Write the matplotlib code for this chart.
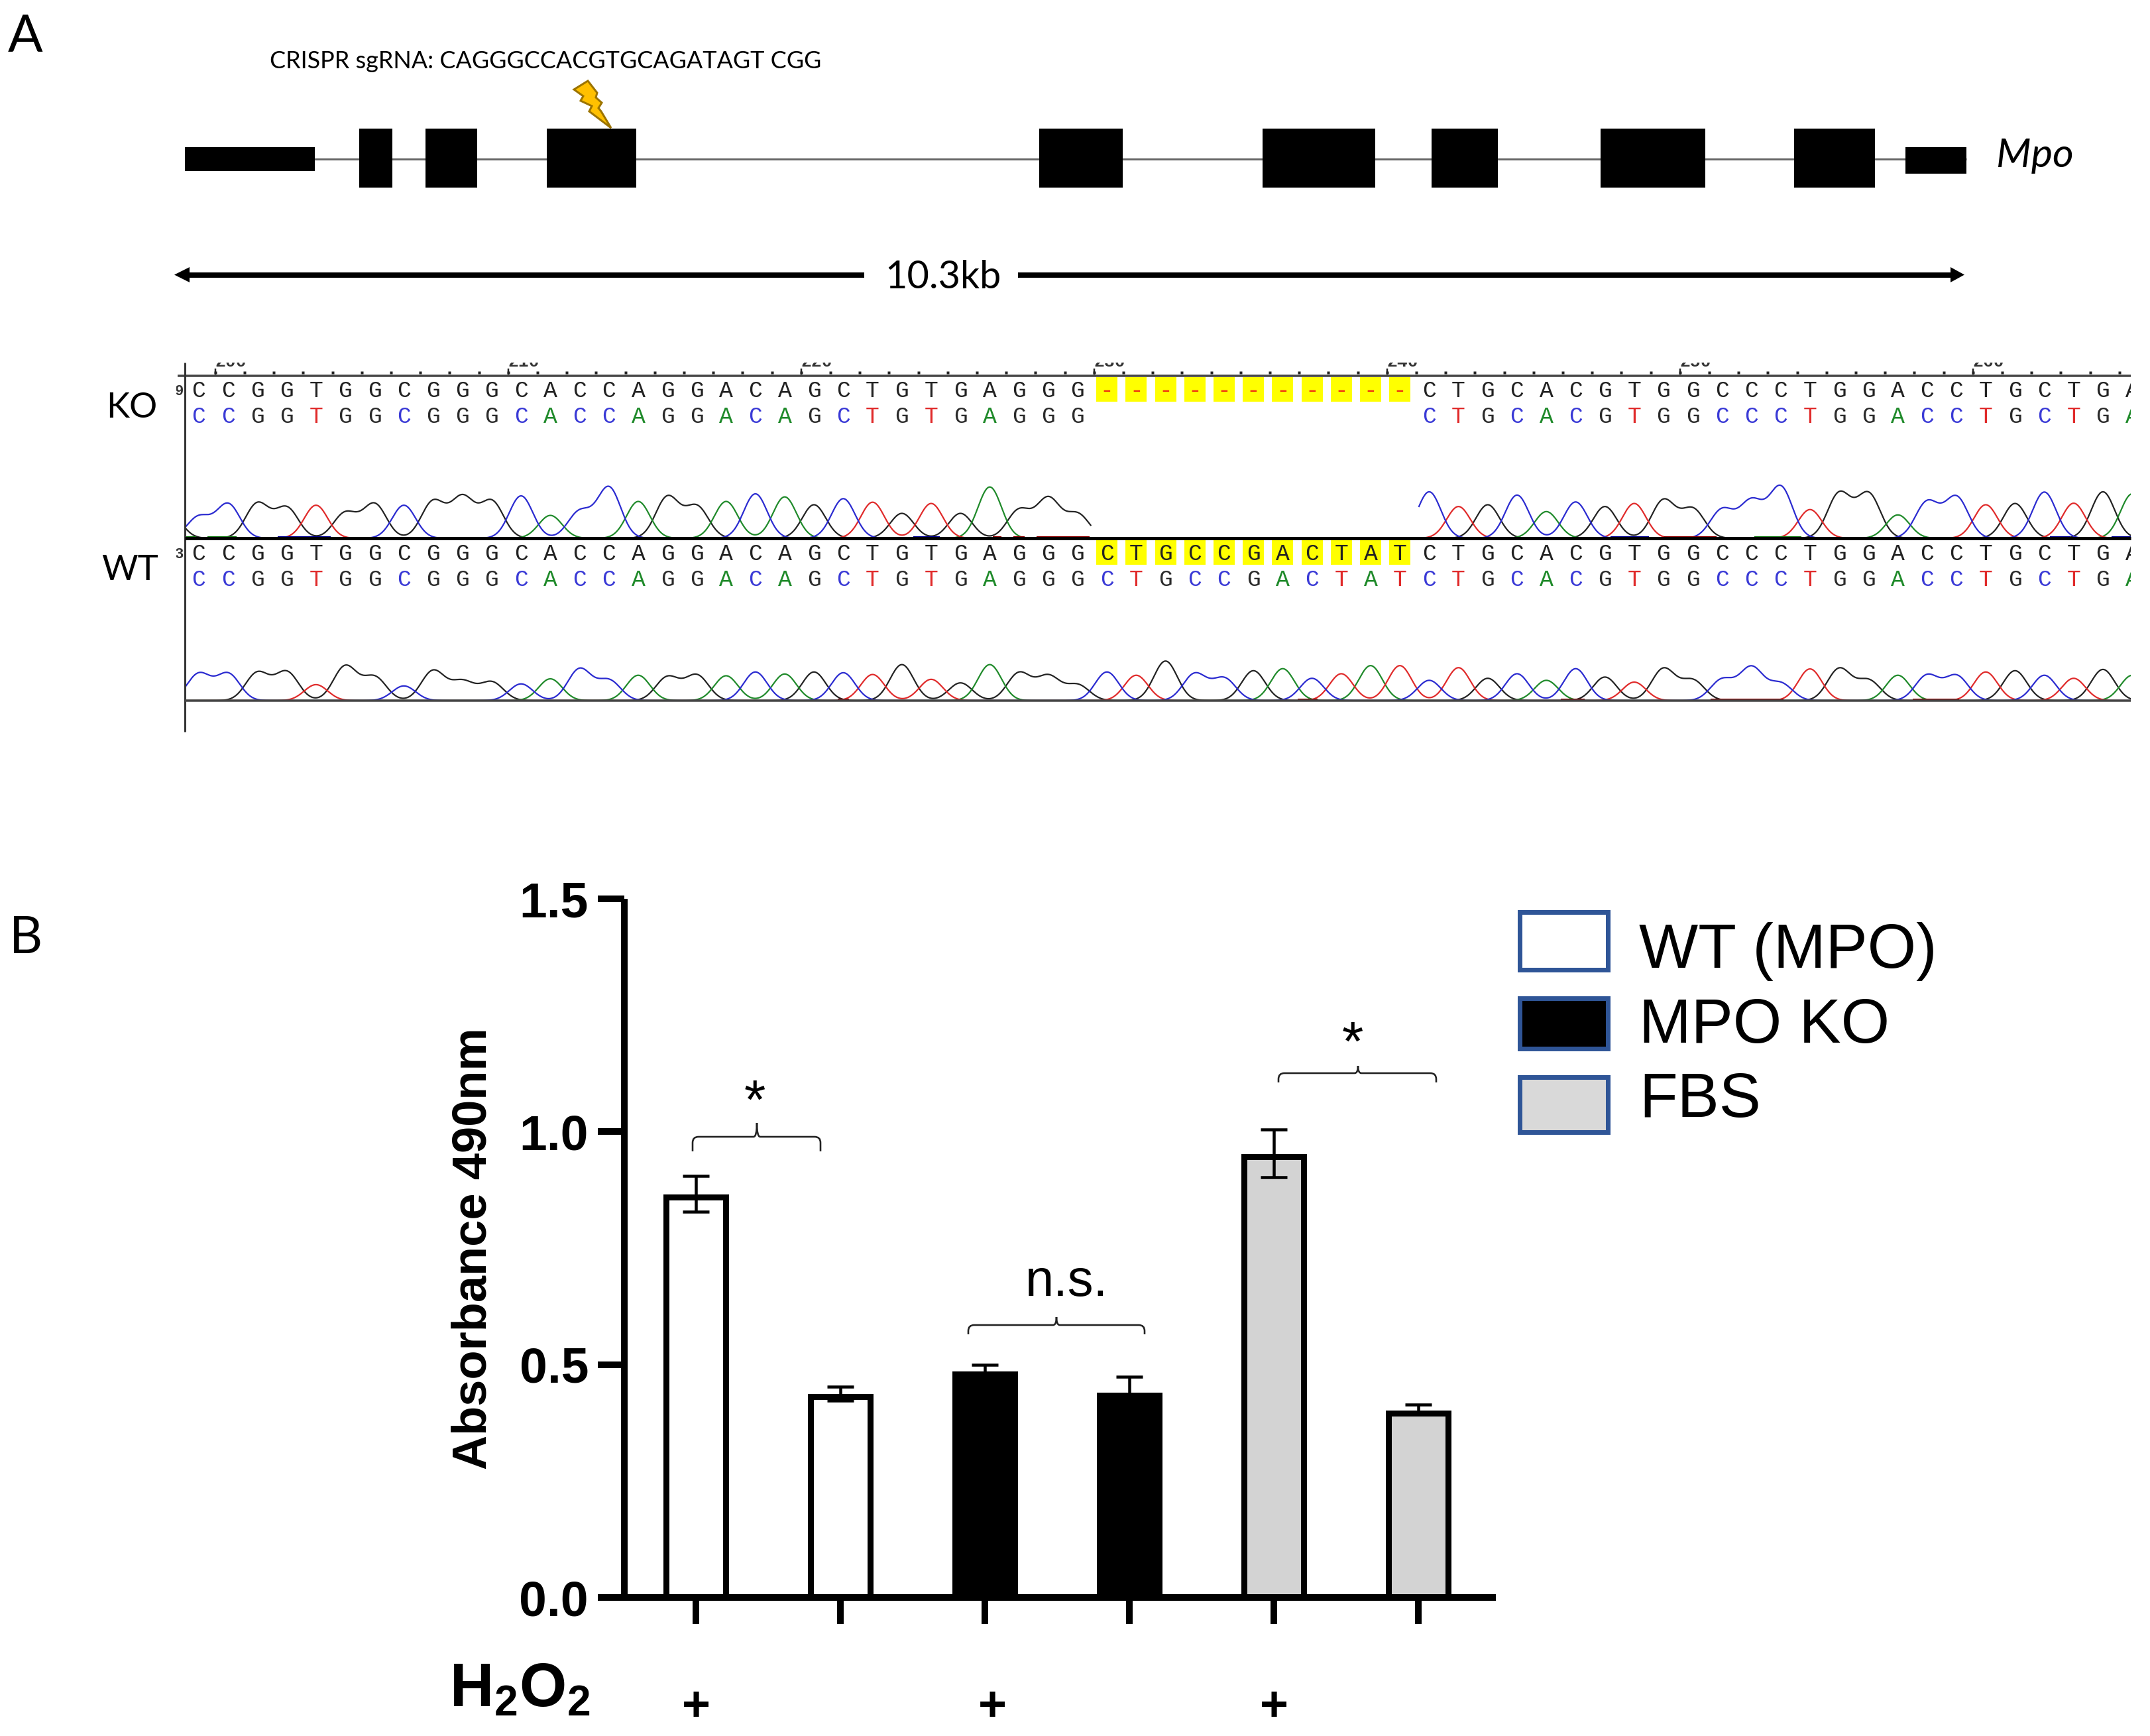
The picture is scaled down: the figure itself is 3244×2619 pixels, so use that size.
import numpy as np
import matplotlib
matplotlib.use("Agg")
import matplotlib.pyplot as plt
from matplotlib.patches import Rectangle, Polygon, PathPatch
from matplotlib.path import Path
from matplotlib.transforms import Bbox

# ---------- data ----------
# Panel B
groups = ["WT (MPO)", "WT (MPO)", "MPO KO", "MPO KO", "FBS", "FBS"]
absorbance = [0.859, 0.431, 0.479, 0.434, 0.946, 0.395]
err_low = [0.031, 0.008, 0.0, 0.0, 0.044, 0.0]
err_high = [0.046, 0.021, 0.021, 0.040, 0.059, 0.019]
bar_fill = ["white", "white", "black", "black", "#d3d3d3", "#d3d3d3"]
y_ticks = [0.0, 0.5, 1.0, 1.5]
y_tick_labels = ["0.0", "0.5", "1.0", "1.5"]
legend_names = ["WT (MPO)", "MPO KO", "FBS"]
legend_fill = ["white", "black", "#d9d9d9"]
h2o2_x = [1050, 1497, 1922]
brackets = [("*", 1045, 1238, 1142, 1715, 1737, 1694, 1139, 1688),
            ("n.s.", 1461, 1727, 1594, 1999, 2013, 1987, 1609, 1955),
            ("*", 1929, 2167, 2049, 1619, 1633, 1608, 2041, 1600)]
# Panel A gene model
exon_start = [279, 542, 642, 825, 1568, 1905, 2160, 2415, 2707, 2875]
exon_end = [475, 592, 720, 960, 1694, 2075, 2260, 2573, 2829, 2967]
exon_top = [222, 194, 194, 194, 194, 194, 194, 194, 194, 222]
exon_bottom = [258, 283, 283, 283, 283, 283, 283, 283, 283, 262]
bolt_x = [887, 866, 880, 876, 893, 889, 922, 907, 903, 908, 899, 901]
bolt_y = [122, 135, 145, 152, 160, 168, 193, 168, 163, 155, 147, 140]
# Panel A sequence traces
seq_left = "CCGGTGGCGGGCACCAGGACAGCTGTGAGGG"
seq_mid = "CTGCCGACTAT"
seq_right = "CTGCACGTGGCCCTGGACCTGCTGA"
wt_seq = seq_left + seq_mid + seq_right
ko_called = [b for b in seq_left] + ["-"] * len(seq_mid) + [b for b in seq_right]
ko_peaks = [85, 135, 137, 120, 130, 100, 135, 130, 145, 160, 145, 167, 90, 105, 200, 145,
            163, 125, 145, 175, 163, 132, 156, 142, 98, 137, 98, 202, 111, 156, 95,
            0, 0, 0, 0, 0, 0, 0, 0, 0, 0, 0,
            183, 125, 132, 170, 105, 143, 125, 137, 150, 115, 113, 145, 202, 113, 177,
            175, 92, 143, 162, 132, 137, 182, 138, 183, 175]
wt_peaks = [106, 106, 110, 113, 63, 136, 93, 58, 118, 75, 73, 66, 86, 125, 80, 100, 93, 100,
            98, 113, 105, 113, 110, 103, 142, 84, 70, 142, 109, 96, 62,
            113, 100, 156, 106, 88, 118, 126, 88, 106, 138, 138,
            80, 130, 88, 106, 80, 126, 93, 73, 126, 80, 83, 131, 68, 125, 126, 80, 100,
            100, 98, 113, 118, 100, 88, 123, 100]
ko_spans = [(-0.47, 30.45), (41.65, 67.0)]
ko_base_marks = [(-0.47, -0.1, "#147a14"), (0.3, 1.3, "#147a14"), (2.7, 4.5, "#000090"),
                 (24.4, 25.3, "#000090"), (27.1, 27.4, "#8b0000"), (27.8, 28.2, "#8b0000"),
                 (28.6, 30.4, "#8b0000"), (48.2, 49.5, "#000090"), (50.0, 51.8, "#8b0000"),
                 (53.1, 54.7, "#147a14"), (63.2, 63.9, "#000090"), (65.3, 66.6, "#000090")]
wt_base_marks = [(21.8, 22.2, "#8b0000"), (37.5, 38.2, "#8b0000"), (46.5, 47.3, "#8b0000"),
                 (51.6, 54.1, "#8b0000"), (58.5, 60.1, "#8b0000")]
ruler_labels = ["200", "210", "220", "230", "240", "250", "260"]
base_colors = {"A": "#1f8a2a", "C": "#3a3ad6", "G": "#2b2b2b", "T": "#e02a2a"}

# ---------- figure ----------
W, H = 3244, 2619
DPI = 100
PT = 72 / DPI
fig = plt.figure(figsize=(W / DPI, H / DPI), dpi=DPI, facecolor="white")


def axes_px(x0, y0, x1, y1, **kw):
    return fig.add_axes([x0 / W, 1 - y1 / H, (x1 - x0) / W, (y1 - y0) / H], **kw)


ov = axes_px(0, 0, W, H, zorder=5)
ov.set_xlim(0, W)
ov.set_ylim(H, 0)
ov.axis("off")
ov.patch.set_alpha(0)

NARROW = "Lato"
SANS = "Liberation Sans"
plt.rcParams["mathtext.fontset"] = "custom"
plt.rcParams["mathtext.bf"] = "Liberation Sans:bold"
plt.rcParams["mathtext.rm"] = "Liberation Sans:bold"

ov.text(12, 78, "A", family=NARROW, fontsize=56, va="baseline")
ov.text(14, 1438, "B", family=NARROW, fontsize=56, va="baseline")

# gene model
ov.plot([279, 2967], [240, 240], color="#666666", lw=3 * PT, solid_capstyle="butt", zorder=1)
for s, e, t, b in zip(exon_start, exon_end, exon_top, exon_bottom):
    ov.add_patch(Rectangle((s, t), e - s, b - t, fc="black", ec="none", zorder=2))
ov.add_patch(Polygon(np.column_stack([bolt_x, bolt_y]), closed=True, fc="#ffc000",
                     ec="#9c7400", lw=3 * PT, zorder=3))
ov.text(407, 103, "CRISPR sgRNA: CAGGGCCACGTGCAGATAGT CGG", family=NARROW, fontsize=25.9,
        va="baseline")
ov.text(3012, 252, "Mpo", family=NARROW, style="italic", fontsize=44, va="baseline")
ov.text(1335, 435, "10.3kb", family=NARROW, fontsize=41.5, va="baseline")

# size arrow
for x0, x1 in [(286, 1304), (1536, 2943)]:
    ov.plot([x0, x1], [414.5, 414.5], color="black", lw=8 * PT, solid_capstyle="butt")
ov.add_patch(Polygon([(263, 414.5), (286, 403), (286, 426)], fc="black", ec="none"))
ov.add_patch(Polygon([(2964, 414.5), (2943, 403), (2943, 426)], fc="black", ec="none"))

ov.text(160, 630, "KO", family=NARROW, fontsize=38, va="baseline")
ov.text(153, 875, "WT", family=NARROW, fontsize=38, va="baseline")

# sequence panel
PANEL_L, PANEL_R = 279, 3215
X0, DX = 300.0, 44.2
idx_l, idx_r = (PANEL_L - X0) / DX, (PANEL_R - X0) / DX
seq = axes_px(PANEL_L, 540, PANEL_R, 1110, zorder=3)
seq.set_xlim(idx_l, idx_r)
seq.set_ylim(1110, 540)
seq.axis("off")
seq.patch.set_alpha(0)

ov.plot([268, PANEL_R], [567, 567], color="#444444", lw=3.5 * PT, solid_capstyle="butt")
ov.plot([279, 279], [547, 1104], color="#333333", lw=3 * PT, solid_capstyle="butt")
ov.plot([279, PANEL_R], [812, 812], color="black", lw=5 * PT, solid_capstyle="butt", zorder=4)
ov.plot([279, PANEL_R], [1057, 1057], color="#444444", lw=3.5 * PT, solid_capstyle="butt", zorder=4)

major = np.arange(0, 7)
minor = np.arange(0, 66)
seq.plot(0.56 + minor, np.full(minor.size, 562.0), ls="none", marker="s", ms=3 * PT * 1.2,
         mfc="#222222", mec="none")
seq.vlines(0.56 + major * 10, 556, 565, color="#222222", lw=2.5 * PT)
label_clip = Bbox([[0, H - 553], [W, H - 547]])
for k, lab in zip(major, ruler_labels):
    t = seq.text(0.56 + k * 10, 553, lab, family="Liberation Mono", weight="bold", fontsize=19,
                 ha="left", va="baseline", color="#333333", clip_on=True)
    t.set_clip_box(label_clip)
for lab, yy in zip("93", (596, 842)):
    t = ov.text(277, yy, lab, family="Liberation Mono", weight="bold", fontsize=16, ha="right",
                va="baseline", color="#333333", clip_on=True)
    t.set_clip_box(Bbox([[266, H - yy - 5], [277, H - yy + 20]]))

MONO = dict(family="Liberation Mono", weight="normal", fontsize=25, ha="center", va="center",
            clip_on=True)
Y_ROWS = (589, 628, 835, 874)
for i, b in enumerate(wt_seq):
    in_mid = len(seq_left) <= i < len(seq_left) + len(seq_mid)
    kb = ko_called[i]
    if in_mid:
        seq.add_patch(Rectangle((i - 0.36, 569), 0.72, 37, fc="#ffff00", ec="none", zorder=1))
        seq.add_patch(Rectangle((i - 0.36, 815), 0.72, 37, fc="#ffff00", ec="none", zorder=1))
        seq.text(i, Y_ROWS[0], "-", color="#f03010", **MONO, zorder=3)
    else:
        seq.text(i, Y_ROWS[0], kb, color="#222222", **MONO, zorder=3)
        seq.text(i, Y_ROWS[1], kb, color=base_colors[kb], **MONO, zorder=3)
    seq.text(i, Y_ROWS[2], b, color="#222222", **MONO, zorder=3)
    seq.text(i, Y_ROWS[3], b, color=base_colors[b], **MONO, zorder=3)

# chromatogram traces: each channel is drawn from the peak height read per base
SIGMA = 0.40
UNIT = 2.613
grid = np.linspace(idx_l, idx_r, 3000)
codes = np.array(list(wt_seq))


def draw_trace(baseline, peaks, spans, marks, lead=None):
    ax = axes_px(PANEL_L, baseline - 240 / UNIT, PANEL_R, baseline, zorder=3)
    ax.set_xlim(idx_l, idx_r)
    ax.set_ylim(0, 240)
    ax.axis("off")
    ax.patch.set_alpha(0)
    peaks = np.asarray(peaks, float)
    for base, col in [("G", "#222222"), ("A", "#1f8a2a"), ("T", "#e02a2a"), ("C", "#2a2ad0")]:
        pos = np.where(codes == base)[0]
        hs = peaks[pos]
        if lead is not None and lead[0] == base:
            pos = np.append(pos, lead[1])
            hs = np.append(hs, lead[2])
        y = (hs[:, None] * np.exp(-0.5 * ((grid[None, :] - pos[:, None]) / SIGMA) ** 2)).sum(axis=0)
        for a, b in spans:
            m = (grid >= a) & (grid <= b)
            ax.plot(grid[m], y[m], color=col, lw=2.2 * PT, solid_joinstyle="round")
    for a, b, c in marks:
        ax.plot([a, b], [3, 3], color=c, lw=4 * PT, solid_capstyle="butt")


draw_trace(812, ko_peaks, ko_spans, ko_base_marks, lead=("G", -1.0, 100))
draw_trace(1057, wt_peaks, [(idx_l, idx_r)], wt_base_marks)

# ---------- panel B ----------
ax = axes_px(942, 1356, 2257, 2410, zorder=2)
xpos = np.arange(len(absorbance))
ax.set_xlim((942 - 1050) / 218, (2257 - 1050) / 218)
ax.set_ylim(0, 1.5)
ax.patch.set_alpha(0)
ax.bar(xpos, absorbance, width=90 / 218, color=bar_fill, edgecolor="black", linewidth=9 * PT,
       zorder=3)
ax.errorbar(xpos, absorbance, yerr=[err_low, err_high], fmt="none", ecolor="black",
            elinewidth=4.5 * PT, capsize=20 * PT, capthick=4.5 * PT, zorder=4)
for side in ("top", "right"):
    ax.spines[side].set_visible(False)
for side in ("left", "bottom"):
    ax.spines[side].set_linewidth(10 * PT)
    ax.spines[side].set_capstyle("butt")
ax.spines["bottom"].set_zorder(5)
ax.set_yticks(y_ticks)
ax.set_yticklabels(y_tick_labels, family=SANS, weight="bold", fontsize=54)
ax.set_xticks(xpos)
ax.set_xticklabels([""] * len(xpos))
ax.tick_params(axis="both", length=40 * PT, width=10 * PT, pad=10)
ax.set_ylabel("Absorbance 490nm", family=SANS, weight="bold", fontsize=52, va="center")
ax.yaxis.set_label_coords((714 - 942) / 1315, (2410 - 1884) / 1054)

ov.text(678, 2574, r"$\mathbf{H_2O_2}$", fontsize=66, va="baseline")
for x in h2o2_x:
    ov.text(x, 2596, "+", family=SANS, weight="bold", fontsize=53, ha="center", va="baseline")

for lab, x0, x1, xt, yb, ye, yt, xl, yl in brackets:
    r = 9
    verts = [(x0, ye), (x0, yb + r), (x0, yb), (x0 + r, yb), (xt - 5, yb), (xt, yb), (xt, yt),
             (xt, yb), (xt + 5, yb), (x1 - r, yb), (x1, yb), (x1, yb + r), (x1, ye)]
    cds = [Path.MOVETO, Path.LINETO, Path.CURVE3, Path.CURVE3, Path.LINETO, Path.CURVE3, Path.CURVE3,
           Path.CURVE3, Path.CURVE3, Path.LINETO, Path.CURVE3, Path.CURVE3, Path.LINETO]
    ov.add_patch(PathPatch(Path(verts, cds), fc="none", ec="#222222", lw=2.6 * PT))
    size = 60 if lab == "*" else 56
    ov.text(xl, yl, lab, family=SANS, fontsize=size, ha="center", va="baseline")

leg_top = [1373, 1503, 1622]
leg_bot = [1466, 1585, 1711]
leg_base = [1460, 1573, 1685]
for name, fc, t, b, y in zip(legend_names, legend_fill, leg_top, leg_bot, leg_base):
    ov.add_patch(Rectangle((2293, t + 3), 133, b - t - 6, fc=fc, ec="#2f5597", lw=7 * PT))
    ov.text(2473, y, name, family=SANS, fontsize=68, va="baseline")

fig.savefig("out.png", dpi=DPI, facecolor="white")
